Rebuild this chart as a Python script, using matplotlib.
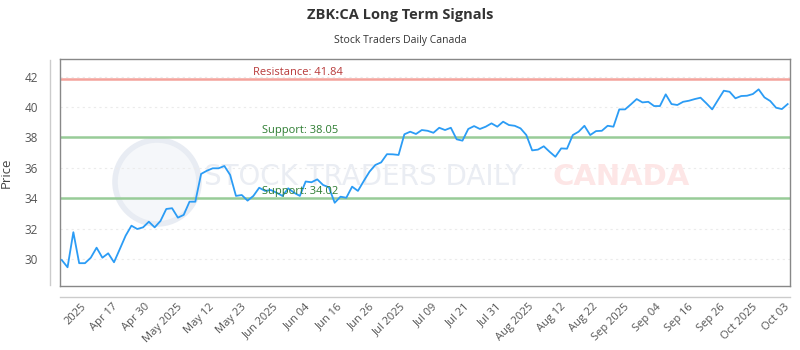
import matplotlib
matplotlib.use('Agg')
import matplotlib.pyplot as plt
import numpy as np
from matplotlib.lines import Line2D
from matplotlib.patches import Ellipse

plt.rcParams['font.family'] = ['Open Sans', 'DejaVu Sans']

prices = [
    29.93, 29.45, 31.76, 29.72, 29.72, 30.08, 30.74, 30.08, 30.37, 29.78,
    30.65, 31.53, 32.19, 31.97, 32.08, 32.45, 32.08, 32.50, 33.29, 33.34,
    32.72, 32.90, 33.77, 33.77, 35.60, 35.81, 35.97, 35.97, 36.12, 35.53,
    34.15, 34.21, 33.84, 34.15, 34.69, 34.48, 34.54, 34.36, 34.15, 34.65,
    34.36, 34.15, 35.10, 35.05, 35.24, 34.87, 34.72, 33.70, 34.10, 34.03,
    34.76, 34.48, 35.13, 35.75, 36.19, 36.36, 36.90, 36.89, 36.85, 38.21,
    38.38, 38.23, 38.49, 38.44, 38.31, 38.64, 38.49, 38.64, 37.88, 37.79,
    38.56, 38.75, 38.56, 38.71, 38.93, 38.71, 39.04, 38.82, 38.77, 38.60,
    38.16, 37.15, 37.20, 37.42, 37.06, 36.73, 37.28, 37.26, 38.16, 38.38,
    38.77, 38.16, 38.42, 38.44, 38.77, 38.71, 39.85, 39.85, 40.18, 40.53,
    40.31, 40.35, 40.07, 40.07, 40.84, 40.20, 40.14, 40.35, 40.42, 40.53,
    40.62, 40.25, 39.85, 40.47, 41.08, 41.01, 40.58, 40.73, 40.75, 40.86,
    41.17, 40.64, 40.40, 39.96, 39.87, 40.20,
]
tick_labels = ['2025', 'Apr 17', 'Apr 30', 'May 2025', 'May 12', 'May 23', 'Jun 2025',
               'Jun 04', 'Jun 16', 'Jun 26', 'Jul 2025', 'Jul 09', 'Jul 21', 'Jul 31',
               'Aug 2025', 'Aug 12', 'Aug 22', 'Sep 2025', 'Sep 04', 'Sep 16', 'Sep 26',
               'Oct 2025', 'Oct 03']
resistance = 41.84
supports = [38.05, 34.02]

x = np.arange(len(prices))
fig = plt.figure(figsize=(8, 3.5), dpi=100)
ax = fig.add_axes([0.075, 0.183, 0.9125, 0.6476])

# faint watermark (logo ring + wordmark), kept under the data
ax.add_patch(Ellipse((157 / 800, 1 - 182 / 350), 84 / 800, 84 / 350, transform=fig.transFigure,
                     facecolor='#f5f7fa', edgecolor='#e8ecf3', lw=4, zorder=0.5))
ax.text(0.415, 0.48, 'STOCK TRADERS DAILY', transform=ax.transAxes, ha='center', va='center',
        fontsize=20, color='#eaedf3', family=['DejaVu Sans'], zorder=0.6)
ax.text(0.768, 0.48, 'CANADA', transform=ax.transAxes, ha='center', va='center',
        fontsize=21, fontweight='bold', color='#fde6e6', family=['DejaVu Sans'], zorder=0.6)

ax.axhline(resistance, color='#f4a39c', lw=1.8, zorder=2)
for s in supports:
    ax.axhline(s, color='#98cc98', lw=1.8, zorder=2)
ax.text(33.0, resistance + 0.08, f'Resistance: {resistance:.2f}', color='#b83a3a',
        fontsize=8, va='bottom', ha='left', zorder=4)
for s in supports:
    ax.text(34.5, s + 0.08, f'Support: {s:.2f}', color='#2e7d32',
            fontsize=8, va='bottom', ha='left', zorder=4)

ax.plot(x, prices, color='#2b9cf5', lw=1.3, zorder=3)

ax.set_xlim(-0.3, 125.4)
ax.set_ylim(28.22, 43.15)
ax.set_yticks(range(30, 43, 2))
ax.grid(axis='y', color='#ebebeb', ls=(0, (2, 3)), lw=0.8)
ax.set_axisbelow(True)
ax.set_xticks(3.3 + 5.5 * np.arange(len(tick_labels)))
ax.set_xticklabels(tick_labels, rotation=45, ha='right', rotation_mode='anchor')
ax.tick_params(axis='x', length=0, pad=11, labelsize=8, labelcolor='#555555')
ax.tick_params(axis='y', length=0, pad=16, labelsize=8.5, labelcolor='#555555')
ax.set_ylabel('Price', fontsize=9.5, color='#444444', labelpad=8)
for sp in ax.spines.values():
    sp.set_color('#888888')
    sp.set_linewidth(1)

fig.add_artist(Line2D([50 / 800, 50 / 800], [1 - 60 / 350, 1 - 285 / 350], color='#cccccc', lw=1))
fig.add_artist(Line2D([60 / 800, 790 / 800], [1 - 297 / 350, 1 - 297 / 350], color='#cccccc', lw=1))

fig.text(0.5, 1 - 15 / 350, 'ZBK:CA Long Term Signals', ha='center', va='center',
         fontsize=10.5, fontweight='bold', color='#333333')
fig.text(0.5, 1 - 40 / 350, 'Stock Traders Daily Canada', ha='center', va='center',
         fontsize=7.5, color='#333333')

fig.savefig('out.png', dpi=100, facecolor='white')
